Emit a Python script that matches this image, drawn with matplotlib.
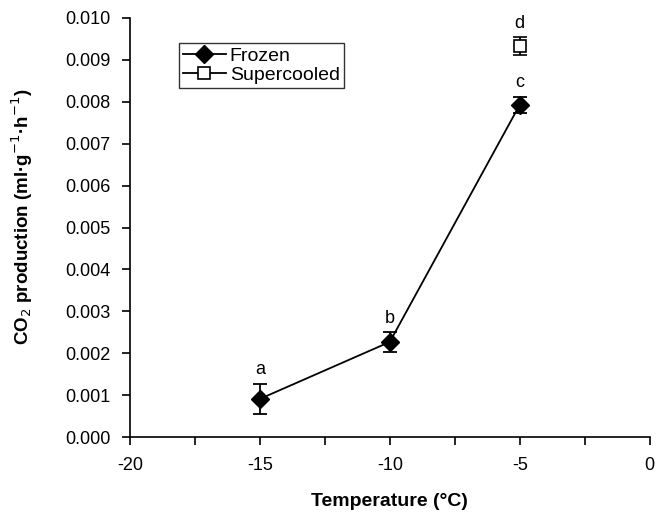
import numpy as np
import matplotlib
matplotlib.use('Agg')
import matplotlib.pyplot as plt
from matplotlib.ticker import MultipleLocator, FuncFormatter
from matplotlib.lines import Line2D

plt.rcParams['font.family'] = ['Liberation Sans', 'DejaVu Sans']

# data
frozen_temp = [-15, -10, -5]
frozen_co2 = [0.00091, 0.00227, 0.00793]
frozen_err = [0.00036, 0.00023, 0.00019]
frozen_letters = ['a', 'b', 'c']

super_temp = [-5]
super_co2 = [0.00933]
super_err = [0.00021]
super_letters = ['d']

fig = plt.figure(figsize=(6.59, 5.13), dpi=100)
ax = fig.add_axes([0.197, 0.148, 0.789, 0.817])

ax.errorbar(frozen_temp, frozen_co2, yerr=frozen_err, color='black', marker='D',
            markersize=9, linewidth=1.3, elinewidth=1.3, capsize=5, capthick=1.3)
ax.errorbar(super_temp, super_co2, yerr=super_err, color='black', marker='s',
            markersize=8, markerfacecolor='white', markeredgewidth=1.2,
            linestyle='-', linewidth=1.3, elinewidth=1.3, capsize=5, capthick=1.3)

for x, y, e, t in zip(frozen_temp + super_temp, frozen_co2 + super_co2,
                      frozen_err + super_err, frozen_letters + super_letters):
    ax.annotate(t, (x, y + e), xytext=(0, 4), textcoords='offset points',
                ha='center', va='bottom', fontsize=13)

ax.set_xlim(-20, 0)
ax.set_ylim(0, 0.010)
ax.xaxis.set_major_locator(MultipleLocator(5))
ax.xaxis.set_minor_locator(MultipleLocator(2.5))
ax.yaxis.set_major_locator(MultipleLocator(0.001))
ax.yaxis.set_major_formatter(FuncFormatter(lambda v, p: '%.3f' % v))
ax.xaxis.set_major_formatter(FuncFormatter(lambda v, p: '%d' % round(v)))
ax.tick_params(axis='both', which='both', direction='out', length=6, width=1.2,
               labelsize=13, pad=8)
ax.tick_params(axis='y', pad=8)

ax.spines['top'].set_visible(False)
ax.spines['right'].set_visible(False)
ax.spines['left'].set_linewidth(1.2)
ax.spines['bottom'].set_linewidth(1.2)

ax.set_xlabel('Temperature (\u00b0C)', fontsize=14, fontweight='bold', labelpad=14)
ax.set_ylabel('CO$_{2}$ production (ml\u00b7g$^{-1}$\u00b7h$^{-1}$)',
              fontsize=13.5, fontweight='bold')
ax.yaxis.set_label_coords(-0.183, 0.525)

handles = [
    Line2D([], [], color='black', marker='D', markersize=9, linewidth=1.3),
    Line2D([], [], color='black', marker='s', markersize=8, markerfacecolor='white',
           markeredgewidth=1.2, linewidth=1.3),
]
lgd = ax.legend(handles, ['Frozen', 'Supercooled'], loc='upper left',
                bbox_to_anchor=(0.095, 0.94), fontsize=14, frameon=True,
                fancybox=False, edgecolor='black', handlelength=2.2,
                handletextpad=0.2, borderpad=0.2, labelspacing=0.1,
                borderaxespad=0)
lgd.get_frame().set_linewidth(1.0)

plt.savefig('out.png', dpi=100)
